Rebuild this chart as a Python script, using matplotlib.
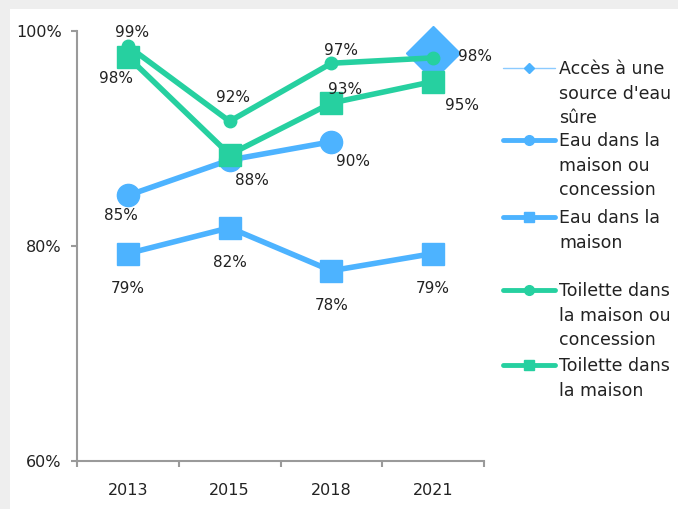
import matplotlib
matplotlib.use("Agg")
import matplotlib.pyplot as plt
from matplotlib.lines import Line2D
from matplotlib.patches import Rectangle

# data
years = ["2013", "2015", "2018", "2021"]
acces_source = [None, None, None, 98.0]
eau_concession = [84.7, 88.0, 89.7, None]
eau_maison = [79.3, 81.7, 77.7, 79.3]
toil_concession = [98.6, 91.6, 97.0, 97.5]
toil_maison = [97.6, 88.5, 93.3, 95.3]

# label pixel offsets for each point (None = no label)
lab_acces = [None, None, None, (42, -4)]
lab_eau_conc = [(-7, -20), None, (22, -20), None]
lab_eau_mais = [(0, -35), (0, -35), (0, -35), (0, -35)]
lab_toil_conc = [(4, 14), (3, 24), (10, 13), None]
lab_toil_mais = [(-12, -22), (22, -26), (14, 14), (29, -24)]

blue = "#4db3ff"
green = "#26d0a0"
txt = "#222222"
grey = "#9a9a9a"

plt.rcParams["font.family"] = ["DejaVu Sans"]

fig = plt.figure(figsize=(6.78, 5.09), dpi=100, facecolor="#eeeeee")
fig.patches.append(Rectangle((10 / 678, 0), 1, 500 / 509, transform=fig.transFigure,
                             facecolor="white", edgecolor="none", zorder=-10))
ax = fig.add_axes([77 / 678, 48 / 509, 407 / 678, 430 / 509])
ax.set_facecolor("none")
ax.set_zorder(2)

x = list(range(len(years)))


def draw(vals, labels, color, marker, ms, lw, z):
    xs = [i for i, v in zip(x, vals) if v is not None]
    ys = [v for v in vals if v is not None]
    ax.plot(xs, ys, color=color, lw=lw, marker=marker, ms=ms,
            solid_capstyle="round", zorder=z, clip_on=False)
    for i, v, off in zip(x, vals, labels):
        if v is None or off is None:
            continue
        ax.annotate(f"{v:.0f}%", (i, v), xytext=off, textcoords="offset pixels",
                    ha="center", va="center", fontsize=11, color=txt, zorder=10)


draw(acces_source, lab_acces, blue, "D", 27, 1.2, 2)
draw(eau_concession, lab_eau_conc, blue, "o", 16, 4, 3)
draw(eau_maison, lab_eau_mais, blue, "s", 16, 4, 3)
draw(toil_concession, lab_toil_conc, green, "o", 9, 4, 4)
draw(toil_maison, lab_toil_mais, green, "s", 16, 4, 5)

ax.set_xlim(-0.5, 3.5)
ax.set_ylim(60, 100)
ax.set_yticks([60, 80, 100])
ax.set_yticklabels(["60%", "80%", "100%"])
ax.set_xticks(x)
ax.set_xticklabels(years)
ax.set_xticks([-0.5, 0.5, 1.5, 2.5, 3.5], minor=True)
ax.tick_params(axis="x", which="major", length=0, pad=16, labelsize=11.5, labelcolor=txt)
ax.tick_params(axis="x", which="minor", length=4.5, width=1.5, color=grey)
ax.tick_params(axis="y", length=4, width=1.5, color=grey, pad=7, labelsize=11.5, labelcolor=txt)
for s in ["top", "right"]:
    ax.spines[s].set_visible(False)
for s in ["left", "bottom"]:
    ax.spines[s].set_color(grey)
    ax.spines[s].set_linewidth(1.5)

# legend drawn by hand so the handle sits on the first text line
legend = [
    ("Accès à une\nsource d'eau\nsûre", "#8ccbff", "D", 5, 1.0, 68),
    ("Eau dans la\nmaison ou\nconcession", blue, "o", 7, 3.5, 140),
    ("Eau dans la\nmaison", blue, "s", 7, 3.5, 217),
    ("Toilette dans\nla maison ou\nconcession", green, "o", 7, 3.5, 290),
    ("Toilette dans\nla maison", green, "s", 7, 3.5, 365),
]
for label, color, marker, ms, lw, ypx in legend:
    yf = 1 - ypx / 509
    fig.add_artist(Line2D([503 / 678, 555 / 678], [yf, yf], transform=fig.transFigure,
                          color=color, lw=lw, solid_capstyle="round"))
    fig.add_artist(Line2D([529 / 678], [yf], transform=fig.transFigure,
                          color=blue if marker == "D" else color, marker=marker, ms=ms, lw=0))
    fig.text(559 / 678, yf + 8 / 509, label, ha="left", va="top", fontsize=12.5,
             color=txt, linespacing=1.47)

fig.savefig("out.png", dpi=100, facecolor=fig.get_facecolor())
